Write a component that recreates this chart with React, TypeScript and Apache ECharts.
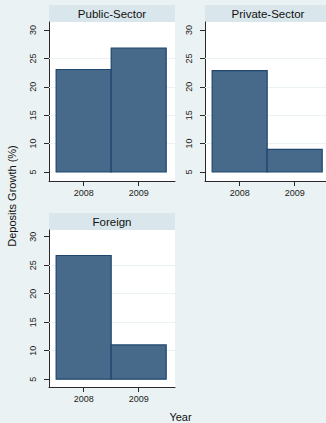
import React, { useEffect, useRef } from "react";
import * as echarts from "echarts";

const panelTitles = ["Public-Sector", "Private-Sector", "Foreign"];
const years = [2008, 2009];
const publicSector = [23.05, 26.8];
const privateSector = [22.85, 9.0];
const foreign = [26.7, 11.0];
const yTickValues = [5, 10, 15, 20, 25, 30];
const gridValues = [10, 15, 20, 25];
const histBase = 5;
const yTitle = "Deposits Growth (%)";
const xTitle = "Year";

const FONT = "'Liberation Sans', Arial, Helvetica, sans-serif";
const BG = "#EAF2F3";
const HEADER = "#D9E6EB";
const BAR = "#486A8A";
const BAR_EDGE = "#1E466E";
const AXIS = "#2a2a2a";

const layouts = [
  { left: 49, top: 22, width: 126, height: 159, hTop: 5 },
  { left: 205, top: 22, width: 126, height: 159, hTop: 5 },
  { left: 49, top: 230, width: 126, height: 157, hTop: 213 },
];
const yRanges = [
  { min: 3.42, max: 31.41 },
  { min: 3.42, max: 31.41 },
  { min: 3.62, max: 31.18 },
];
const xRange = { min: 2007.37, max: 2009.66 };

export default function App() {
  const ref = useRef<HTMLDivElement>(null);
  useEffect(() => {
    if (!ref.current) return;
    const chart = echarts.init(ref.current, null, { renderer: "svg" });
    const seriesValues = [publicSector, privateSector, foreign];

    const grid = layouts.map((l) => ({
      left: l.left,
      top: l.top,
      width: l.width,
      height: l.height,
      show: true,
      backgroundColor: "#ffffff",
      borderWidth: 0,
      containLabel: false,
      outerBoundsMode: "none",
    }));

    const xAxis = layouts.map((_, i) => ({
      type: "value",
      gridIndex: i,
      min: xRange.min,
      max: xRange.max,
      axisLine: { show: true, lineStyle: { color: AXIS, width: 1 } },
      axisTick: { show: true, length: 5, customValues: years, lineStyle: { color: AXIS } },
      axisLabel: {
        show: true,
        customValues: years,
        formatter: (v: number) => String(v),
        fontSize: 9,
        fontFamily: FONT,
        color: "#222",
        margin: 7,
      },
      splitLine: { show: false },
    }));

    const yAxis = layouts.map((_, i) => ({
      type: "value",
      gridIndex: i,
      min: yRanges[i].min,
      max: yRanges[i].max,
      axisLine: { show: true, lineStyle: { color: AXIS, width: 1 } },
      axisTick: { show: true, length: 5, customValues: yTickValues, lineStyle: { color: AXIS } },
      axisLabel: {
        show: true,
        customValues: yTickValues,
        formatter: (v: number) => String(v),
        rotate: 90,
        fontSize: 9,
        fontFamily: FONT,
        color: "#222",
        margin: 12,
      },
      splitLine: { show: false },
    }));

    const series: any[] = [];
    layouts.forEach((_, i) => {
      series.push({
        type: "line",
        xAxisIndex: i,
        yAxisIndex: i,
        data: [],
        z: 1,
        silent: true,
        markLine: {
          silent: true,
          symbol: "none",
          label: { show: false },
          lineStyle: { color: BG, width: 1, type: "solid" },
          data: gridValues.map((v) => ({ yAxis: v })),
          z: 1,
        },
      });
      series.push({
        type: "custom",
        xAxisIndex: i,
        yAxisIndex: i,
        z: 10,
        encode: { x: 0, y: 1 },
        data: years.map((y, k) => [y, seriesValues[i][k]]),
        renderItem: (params: any, api: any) => {
          const x = api.value(0);
          const v = api.value(1);
          const p0 = api.coord([x - 0.5, histBase]);
          const p1 = api.coord([x + 0.5, v]);
          return {
            type: "rect",
            shape: {
              x: p0[0],
              y: p1[1],
              width: p1[0] - p0[0],
              height: p0[1] - p1[1],
            },
            style: { fill: BAR, stroke: BAR_EDGE, lineWidth: 1.2 },
          };
        },
      });
    });

    const graphic: any[] = [];
    layouts.forEach((l, i) => {
      graphic.push({
        type: "rect",
        shape: { x: l.left, y: l.hTop, width: l.width, height: l.top - l.hTop },
        style: { fill: HEADER },
        silent: true,
      });
      graphic.push({
        type: "text",
        x: l.left + l.width / 2,
        y: (l.hTop + l.top) / 2 + 0.5,
        style: {
          text: panelTitles[i],
          fill: "#111",
          font: `11.5px ${FONT}`,
          align: "center",
          verticalAlign: "middle",
        },
        silent: true,
      });
    });
    graphic.push({
      type: "text",
      x: 12,
      y: 196,
      rotation: Math.PI / 2,
      style: {
        text: yTitle,
        fill: "#111",
        font: `11px ${FONT}`,
        align: "center",
        verticalAlign: "middle",
      },
      silent: true,
    });
    graphic.push({
      type: "text",
      x: 180.5,
      y: 417,
      style: {
        text: xTitle,
        fill: "#111",
        font: `11px ${FONT}`,
        align: "center",
        verticalAlign: "middle",
      },
      silent: true,
    });

    chart.setOption({
      animation: false,
      backgroundColor: BG,
      textStyle: { fontFamily: FONT },
      grid,
      xAxis,
      yAxis,
      series,
      graphic,
    } as any);

    return () => chart.dispose();
  }, []);

  return (
    <div
      ref={ref}
      style={{ position: "fixed", left: 0, top: 0, width: 326, height: 423 }}
    />
  );
}
